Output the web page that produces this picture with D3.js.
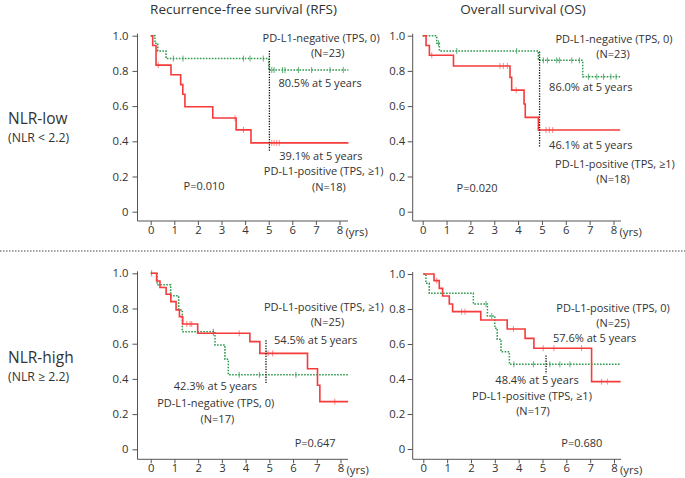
<!DOCTYPE html>
<html>
<head>
<meta charset="utf-8">
<script src="https://cdn.jsdelivr.net/npm/d3@7/dist/d3.min.js"></script>
<style>
  html, body { margin: 0; padding: 0; background: #fff; }
  svg { display: block; }
  text { font-family: "Open Sans", "Noto Sans", sans-serif; fill: #333; }
</style>
</head>
<body>
<svg id="chart" width="685" height="478"></svg>
<script>
// ---------------- DATA ----------------
const yearTicks = [0, 1, 2, 3, 4, 5, 6, 7, 8];
const survTicks = [0, 0.2, 0.4, 0.6, 0.8, 1.0];
const columnTitles = ["Recurrence-free survival (RFS)", "Overall survival (OS)"];
const rowLabels = ["NLR-low", "NLR-high"];
const rowSubLabels = ["(NLR < 2.2)", "(NLR \u2265 2.2)"];

// RFS, NLR-low
const rfsLowNeg = [[0, 1], [0.18, 0.957], [0.3, 0.913], [0.65, 0.870], [5.0, 0.805]];
const rfsLowNegCens = [0.96, 1.37, 3.93, 4.21, 4.77, 5.13, 5.23, 5.59, 5.69, 6.26, 6.82, 7.6, 8.16];
const rfsLowPos = [[0, 1], [0.085, 0.944], [0.226, 0.833], [0.86, 0.778], [1.27, 0.722], [1.36, 0.667], [1.45, 0.596], [2.63, 0.532], [3.62, 0.465], [4.25, 0.391]];
const rfsLowPosCens = [0.32, 3.57, 3.93, 5.13, 5.23, 5.34, 5.45];

// OS, NLR-low
const osLowNeg = [[0, 1], [0.59, 0.957], [0.7, 0.913], [4.85, 0.860], [6.71, 0.767]];
const osLowNegCens = [0.66, 1.43, 3.94, 5.06, 5.23, 5.62, 5.73, 6.25, 6.57, 6.95, 7.3, 7.58, 7.89, 8.11];
const osLowPos = [[0, 1], [0.14, 0.944], [0.28, 0.889], [1.29, 0.828], [3.66, 0.763], [3.73, 0.691], [4.25, 0.612], [4.3, 0.536], [4.85, 0.464]];
const osLowPosCens = [0.38, 3.24, 3.38, 3.55, 3.92, 5.17, 5.31, 5.45];

// RFS, NLR-high
const rfsHighPos = [[0, 1], [0.25, 0.956], [0.39, 0.919], [0.65, 0.881], [0.85, 0.839], [1.07, 0.792], [1.21, 0.754], [1.35, 0.712], [1.98, 0.659], [4.18, 0.612], [4.6, 0.545], [6.61, 0.458], [7.03, 0.364], [7.13, 0.271]];
const rfsHighPosCens = [1.52, 1.66, 1.73, 2.64, 3.73, 4.95, 5.14, 7.76];
const rfsHighNeg = [[0, 1], [0.27, 0.935], [0.84, 0.872], [1.18, 0.792], [1.33, 0.668], [2.71, 0.593], [3.13, 0.511], [3.27, 0.423]];
const rfsHighNegCens = [0.04, 2.64, 3.73, 4.58, 6.12];

// OS, NLR-high
const osHighPos = [[0, 1], [0.45, 0.962], [0.67, 0.918], [0.81, 0.874], [1.09, 0.829], [1.23, 0.785], [2.41, 0.737], [3.52, 0.686], [4.27, 0.632], [4.64, 0.576], [7.06, 0.385]];
const osHighPosCens = [0.56, 1.61, 1.75, 3.78, 5.03, 5.48, 6.64, 7.48, 7.72];
const osHighNeg = [[0, 1], [0.11, 0.947], [0.25, 0.89], [2.1, 0.829], [2.69, 0.76], [3.0, 0.69], [3.1, 0.627], [3.26, 0.556], [3.61, 0.484]];
const osHighNegCens = [2.63, 2.87, 3.8, 4.62, 5.31, 5.73, 6.15];

// Five-year marker (time, from, to) per panel
const fiveYearMarks = [[5.03, 0.915, 0.34], [4.9, 0.91, 0.37], [4.86, 0.62, 0.375], [5.15, 0.535, 0.43]];

// Annotation blocks per panel: { anchor, lines: [[text, x in years, y in survival units]] }
const notesRfsLow = [
  { anchor: "middle", lines: [["PD-L1-negative (TPS, 0)", 7.22, 0.986], ["(N=23)", 7.5, 0.900]] },
  { anchor: "start", lines: [["80.5% at 5 years", 5.41, 0.733]] },
  { anchor: "start", lines: [["39.1% at 5 years", 5.45, 0.316]] },
  { anchor: "middle", lines: [["PD-L1-positive (TPS, \u22651)", 7.33, 0.228], ["(N=18)", 7.55, 0.142]] },
  { anchor: "middle", lines: [["P=0.010", 2.26, 0.148]] }];
const notesOsLow = [
  { anchor: "middle", lines: [["PD-L1-negative (TPS, 0)", 8.02, 0.979], ["(N=23)", 7.98, 0.893]] },
  { anchor: "start", lines: [["86.0% at 5 years", 5.3, 0.71]] },
  { anchor: "start", lines: [["46.1% at 5 years", 5.3, 0.379]] },
  { anchor: "middle", lines: [["PD-L1-positive (TPS, \u22651)", 8.06, 0.271], ["(N=18)", 7.98, 0.185]] },
  { anchor: "middle", lines: [["P=0.020", 2.28, 0.133]] }];
const notesRfsHigh = [
  { anchor: "middle", lines: [["PD-L1-positive (TPS, \u22651)", 7.3, 0.807], ["(N=25)", 7.45, 0.721]] },
  { anchor: "start", lines: [["54.5% at 5 years", 5.2, 0.621]] },
  { anchor: "middle", lines: [["42.3% at 5 years", 2.73, 0.356]] },
  { anchor: "middle", lines: [["PD-L1-negative (TPS, 0)", 2.74, 0.261], ["(N=17)", 2.81, 0.174]] },
  { anchor: "middle", lines: [["P=0.647", 6.93, 0.0375]] }];
const notesOsHigh = [
  { anchor: "middle", lines: [["PD-L1-positive (TPS, 0)", 7.96, 0.807], ["(N=25)", 7.96, 0.720]] },
  { anchor: "start", lines: [["57.6% at 5 years", 5.44, 0.632]] },
  { anchor: "middle", lines: [["48.4% at 5 years", 4.77, 0.392]] },
  { anchor: "middle", lines: [["PD-L1-positive (TPS, \u22651)", 4.56, 0.3035], ["(N=17)", 4.6, 0.2165]] },
  { anchor: "middle", lines: [["P=0.680", 6.65, 0.036]] }];

const redColor = "#f53b3b";
const greenColor = "#2e9a4e";

// ---------------- LAYOUT ----------------
const panels = [
  { x0: 150.7, x8: 339.5, yTop: 35.7, yBot: 211.7, axisY: 221, axisX: 137.5, xEnd: 348, end: 8.38,
    red: rfsLowPos, redC: rfsLowPosCens, green: rfsLowNeg, greenC: rfsLowNegCens, notes: notesRfsLow, five: fiveYearMarks[0] },
  { x0: 422.7, x8: 613.5, yTop: 35.7, yBot: 211.7, axisY: 221, axisX: 412.7, xEnd: 621, end: 8.28,
    red: osLowPos, redC: osLowPosCens, green: osLowNeg, greenC: osLowNegCens, notes: notesOsLow, five: fiveYearMarks[1] },
  { x0: 150.7, x8: 340.5, yTop: 273.3, yBot: 449.3, axisY: 459.3, axisX: 137.5, xEnd: 348, end: 8.32,
    red: rfsHighPos, redC: rfsHighPosCens, green: rfsHighNeg, greenC: rfsHighNegCens, notes: notesRfsHigh, five: fiveYearMarks[2] },
  { x0: 423.3, x8: 614, yTop: 274, yBot: 449, axisY: 459.3, axisX: 412.7, xEnd: 621, end: 8.28,
    red: osHighPos, redC: osHighPosCens, green: osHighNeg, greenC: osHighNegCens, notes: notesOsHigh, five: fiveYearMarks[3] }
];

const svg = d3.select("#chart");

// Column titles
svg.append("text").attr("x", 243.5).attr("y", 14.3).attr("text-anchor", "middle")
  .style("font-size", "13.5px").text(columnTitles[0]);
svg.append("text").attr("x", 523).attr("y", 14.3).attr("text-anchor", "middle")
  .style("font-size", "13.5px").text(columnTitles[1]);

// Row labels
[[123.8, 141.8], [362.8, 380.8]].forEach((p, i) => {
  svg.append("text").attr("x", 8).attr("y", p[0]).style("font-size", "15.5px").text(rowLabels[i]);
  svg.append("text").attr("x", 8).attr("y", p[1]).style("font-size", "12.3px").text(rowSubLabels[i]);
});

// Separator
svg.append("line").attr("x1", 0).attr("x2", 685).attr("y1", 251).attr("y2", 251)
  .attr("stroke", "#444").attr("stroke-width", 1).attr("stroke-dasharray", "1.5,1.5");

function stepValue(series, t) {
  let v = series[0][1];
  for (const [tt, vv] of series) { if (tt <= t) v = vv; }
  return v;
}

panels.forEach((p, pi) => {
  const g = svg.append("g");
  const x = d3.scaleLinear().domain([0, 8]).range([p.x0, p.x8]);
  const y = d3.scaleLinear().domain([0, 1]).range([p.yBot, p.yTop]);

  // axis lines
  g.append("line").attr("x1", p.axisX).attr("x2", p.axisX).attr("y1", p.yTop - 2).attr("y2", p.axisY)
    .attr("stroke", "#555").attr("stroke-width", 1);
  g.append("line").attr("x1", p.axisX).attr("x2", p.xEnd).attr("y1", p.axisY).attr("y2", p.axisY)
    .attr("stroke", "#555").attr("stroke-width", 1);

  // y axis ticks
  const yAx = d3.axisLeft(y).tickValues(survTicks).tickSize(5).tickSizeOuter(0)
    .tickFormat(d => d === 0 ? "0" : d.toFixed(1));
  const ya = g.append("g").attr("transform", `translate(${p.axisX},0)`).call(yAx);
  ya.select(".domain").remove();
  ya.selectAll("line").attr("stroke", "#555");
  ya.selectAll("text").style("font-size", "11.3px").attr("fill", "#333").attr("x", pi % 2 ? -7.5 : -9)
    .style("font-family", '"Open Sans", "Noto Sans", sans-serif');

  // x axis ticks
  const xAx = d3.axisBottom(x).tickValues(yearTicks).tickSize(4).tickSizeOuter(0).tickFormat(d3.format("d"));
  const xa = g.append("g").attr("transform", `translate(0,${p.axisY})`).call(xAx);
  xa.select(".domain").remove();
  xa.selectAll("line").attr("stroke", "#555");
  xa.selectAll("text").style("font-size", "11.3px").attr("fill", "#333").attr("y", 5)
    .style("font-family", '"Open Sans", "Noto Sans", sans-serif');
  g.append("text").attr("x", x(8) + 6).attr("y", p.axisY + 15).style("font-size", "11.3px").text("(yrs)");

  const line = d3.line().x(d => x(d[0])).y(d => y(d[1])).curve(d3.curveStepAfter);

  // green dotted
  const gData = p.green.concat([[p.end, p.green[p.green.length - 1][1]]]);
  g.append("path").attr("d", line(gData)).attr("fill", "none").attr("stroke", greenColor)
    .attr("stroke-width", 1.5).attr("stroke-dasharray", "1.6,1.4");
  g.selectAll(null).data(p.greenC).enter().append("line")
    .attr("x1", d => x(d)).attr("x2", d => x(d))
    .attr("y1", d => y(stepValue(p.green, d)) - 3).attr("y2", d => y(stepValue(p.green, d)) + 3)
    .attr("stroke", greenColor).attr("stroke-width", 1).attr("opacity", 0.75);

  // red solid
  const rData = p.red.concat([[p.end, p.red[p.red.length - 1][1]]]);
  g.append("path").attr("d", line(rData)).attr("fill", "none").attr("stroke", redColor)
    .attr("stroke-width", 1.6);
  g.selectAll(null).data(p.redC).enter().append("line")
    .attr("x1", d => x(d)).attr("x2", d => x(d))
    .attr("y1", d => y(stepValue(p.red, d)) - 3).attr("y2", d => y(stepValue(p.red, d)) + 3)
    .attr("stroke", redColor).attr("stroke-width", 1).attr("opacity", 0.6);

  // five-year marker
  g.append("line").attr("x1", x(p.five[0])).attr("x2", x(p.five[0]))
    .attr("y1", y(p.five[1])).attr("y2", y(p.five[2]))
    .attr("stroke", "#111").attr("stroke-width", 1.3).attr("stroke-dasharray", "1.3,1.3");

  // annotations
  p.notes.forEach(block => {
    const t = g.append("text").attr("text-anchor", block.anchor).style("font-size", "11px");
    block.lines.forEach(l => {
      t.append("tspan").attr("x", x(l[1])).attr("y", y(l[2])).attr("dy", "0.35em").text(l[0]);
    });
  });
});
</script>
</body>
</html>
